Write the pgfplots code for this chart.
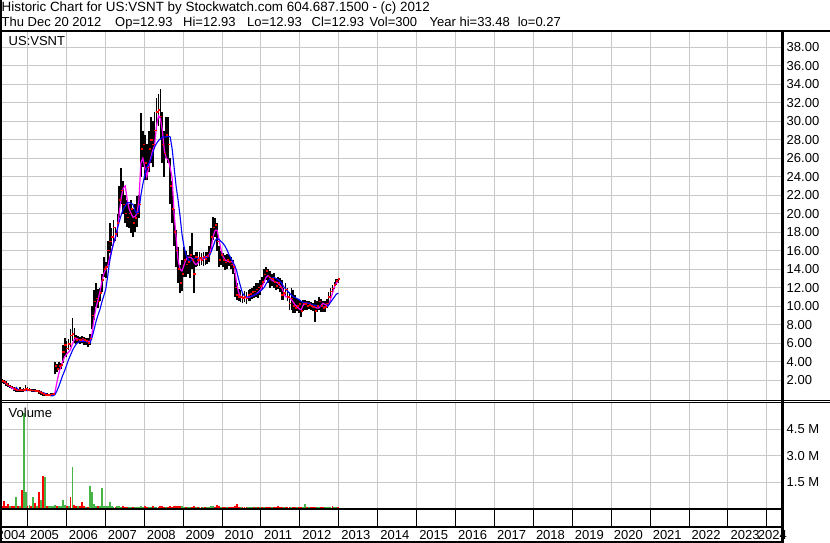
\documentclass[border=0pt]{standalone}
\usepackage{fontspec}
\setmainfont{Liberation Sans}
\usepackage{pgfplots}
\usepackage{pgfplotstable}
\pgfplotsset{compat=1.18}
\definecolor{gridgray}{RGB}{200,200,200}
\definecolor{volgreen}{RGB}{70,180,70}
\definecolor{magline}{RGB}{255,0,255}
\newcommand{\tx}{2005+(\thisrow{t}-2005)*1.0046}
\pgfplotstableread{
t hi lo cl ma mb vg vr
2004.35 2.1 1.7 1.9 1.9 nan 0 0.18
2004.40 2.0 1.6 1.8 1.8 nan 0 0.45
2004.45 1.9 1.4 1.6 1.65 nan 0 0.18
2004.50 1.7 1.2 1.4 1.45 nan 0 0.27
2004.55 1.5 1.1 1.3 1.3 nan 0.14 0
2004.60 1.4 1.0 1.2 1.15 nan 0 0.16
2004.65 1.2 0.8 1.0 1.0 nan 0 0.18
2004.70 1.1 0.7 0.9 0.95 1.25 0.68 0
2004.75 1.0 0.7 0.85 0.9 1.0 0 0.16
2004.80 1.2 0.7 0.9 0.9 0.9 0.16 0
2004.85 1.0 0.7 0.85 0.88 0.85 0 1.06
2004.90 1.1 0.7 0.9 0.9 0.85 5.4 0
2004.95 1.5 0.8 1.0 0.95 0.85 0.94 0
2005.00 1.2 0.8 0.95 0.95 0.85 0 0.18
2005.05 1.1 0.8 0.9 0.92 0.85 0.2 0
2005.10 1.0 0.7 0.85 0.88 0.85 0 0.16
2005.15 1.0 0.75 0.85 0.86 0.85 0.64 0
2005.20 1.0 0.7 0.8 0.84 0.82 0 0.3
2005.25 0.95 0.7 0.8 0.82 0.8 0.18 0
2005.30 0.9 0.5 0.7 0.75 0.75 0 0.93
2005.35 0.8 0.4 0.6 0.65 0.7 0.5 0
2005.40 0.7 0.3 0.5 0.55 0.62 0 1.85
2005.45 0.6 0.3 0.4 0.45 0.55 1.78 0
2005.50 0.6 0.27 0.35 0.4 0.45 0 0.18
2005.55 0.5 0.27 0.4 0.38 0.35 0.18 0
2005.60 0.6 0.3 0.45 0.4 0.3 0.16 0
2005.65 0.6 0.35 0.5 0.45 0.3 0.18 0
2005.70 4.0 2.7 3.5 0.6 0.4 0.2 0
2005.75 3.7 2.9 3.2 1.7 0.8 0 0.16
2005.80 3.9 3.1 3.5 2.7 1.3 0.16 0
2005.85 3.8 3.2 3.6 3.4 1.9 0.18 0
2005.90 5.8 3.8 5.0 4.0 2.5 0.5 0
2005.95 6.5 4.6 5.8 4.5 3.0 0.2 0
2006.00 6.2 4.5 5.4 4.8 3.6 0 0.18
2006.05 6.4 5.2 5.9 5.0 4.2 0.16 0
2006.10 7.5 5.6 6.8 5.3 4.7 0 0.64
2006.15 8.7 6.2 7.0 5.9 5.2 2.34 0
2006.20 7.6 6.0 6.6 6.4 5.6 0 0.2
2006.25 6.9 5.9 6.3 6.5 5.9 0 0.16
2006.30 6.8 6.0 6.4 6.4 6.1 0.14 0
2006.35 6.7 5.9 6.3 6.3 6.15 0 0.14
2006.40 6.8 6.0 6.5 6.3 6.2 0 0.36
2006.45 6.7 5.8 6.3 6.3 6.2 0 0.16
2006.50 6.6 5.8 6.2 6.25 6.15 0.11 0
2006.55 6.5 5.6 6.0 6.2 6.1 0 0.12
2006.60 7.0 5.8 6.5 6.15 6.0 1.28 0
2006.65 10.0 7.5 9.0 7.0 6.6 0.96 0
2006.70 11.7 8.5 10.5 8.6 7.4 0.25 0
2006.75 12.5 9.9 10.8 9.8 8.3 0.16 0
2006.80 11.8 9.8 10.5 10.6 9.0 0 0.14
2006.85 12.0 10.5 11.4 11.5 9.6 0.16 0
2006.90 13.5 11.5 12.8 12.6 10.4 1.15 0
2006.95 15.3 13.1 14.0 13.5 11.1 0.18 0
2007.00 14.8 13.0 14.2 14.0 11.8 0.14 0
2007.05 17.0 14.5 16.0 14.3 13.2 0.16 0
2007.10 19.0 15.7 17.0 15.2 14.8 0.36 0
2007.15 18.5 16.5 17.5 16.0 15.9 0.14 0
2007.20 19.3 16.8 18.5 16.8 16.8 0.12 0
2007.25 18.5 17.0 17.8 17.4 17.5 0 0.11
2007.30 20.0 17.5 19.0 18.3 18.4 0.14 0
2007.35 23.0 19.5 21.5 20.2 19.2 0.16 0
2007.40 24.9 21.0 22.5 21.8 19.9 0.12 0
2007.45 23.5 20.0 21.0 22.8 20.5 0 0.14
2007.50 22.0 19.0 20.0 23.0 20.8 0 0.12
2007.55 21.5 18.6 19.6 21.5 21.2 0 0.11
2007.60 21.0 18.5 20.0 20.5 21.2 0.11 0
2007.65 21.5 17.9 20.5 20.0 21.1 0.11 0
2007.70 20.5 17.5 19.0 19.6 21.0 0 0.12
2007.75 21.0 18.0 19.5 19.7 20.3 0.11 0
2007.80 21.9 18.6 20.0 20.0 20.0 0.11 0
2007.85 22.0 19.5 21.0 21.5 20.3 0.12 0
2007.90 30.9 24.0 27.0 25.5 22.0 0.18 0
2007.95 29.0 25.0 27.5 26.0 23.2 0.12 0
2008.00 28.5 23.6 25.5 25.0 24.2 0 0.14
2008.05 27.5 23.6 25.0 24.0 25.0 0 0.12
2008.10 29.0 24.5 27.0 25.0 25.4 0.12 0
2008.15 30.5 25.5 28.0 26.0 25.8 0.11 0
2008.20 30.0 25.0 27.5 26.8 26.5 0 0.14
2008.25 31.0 27.0 29.0 27.4 27.2 0.11 0
2008.30 32.5 29.0 31.0 29.5 27.6 0.12 0
2008.35 33.0 29.5 31.2 30.6 27.9 0 0.11
2008.40 33.48 28.0 30.5 30.3 28.1 0 0.16
2008.45 31.0 25.5 27.5 29.0 28.3 0 0.14
2008.50 29.0 24.0 26.5 26.8 28.3 0 0.12
2008.55 30.5 26.0 28.5 26.0 28.3 0.11 0
2008.60 30.5 25.5 27.5 25.8 28.4 0 0.11
2008.65 26.0 21.0 23.0 25.0 28.3 0 0.14
2008.70 23.5 19.0 20.5 23.8 27.0 0 0.12
2008.75 20.5 16.5 18.0 20.0 25.0 0 0.16
2008.80 18.2 14.2 16.0 17.5 23.0 0 0.14
2008.85 16.4 12.5 14.0 15.0 21.5 0 0.16
2008.90 14.5 11.4 12.5 14.0 19.8 0 0.18
2008.95 15.0 11.6 13.5 13.8 17.8 0.14 0
2009.00 16.4 13.2 15.0 14.4 16.5 0.12 0
2009.05 16.0 13.2 14.5 15.0 15.6 0 0.11
2009.10 15.5 13.5 14.8 15.3 15.1 0.11 0
2009.15 16.5 13.0 15.5 15.3 14.8 0.12 0
2009.20 17.9 14.0 15.0 15.2 15.0 0 0.11
2009.25 15.5 11.4 13.5 14.8 15.1 0 0.16
2009.30 15.9 14.2 15.3 14.5 15.2 0.11 0
2009.35 15.8 14.3 15.0 14.6 15.2 0 0.1
2009.40 15.9 14.3 15.2 15.0 15.2 0.1 0
2009.45 15.7 14.5 15.0 15.0 15.2 0 0.11
2009.50 15.9 14.3 15.3 15.1 15.2 0.11 0
2009.55 15.8 14.5 15.1 15.3 15.2 0 0.1
2009.60 15.9 14.6 15.4 15.4 15.3 0.11 0
2009.65 16.5 14.8 15.8 15.6 15.4 0.12 0
2009.70 18.5 16.0 17.5 16.3 15.9 0.16 0
2009.75 19.6 17.2 18.5 17.6 16.5 0.14 0
2009.80 19.5 17.5 18.8 18.2 17.1 0 0.12
2009.85 19.0 16.0 17.0 18.2 17.3 0 0.2
2009.90 16.5 14.2 15.0 17.2 17.2 0 0.16
2009.95 16.0 14.5 15.5 16.1 17.0 0.11 0
2010.00 15.7 14.2 15.0 15.4 16.8 0 0.11
2010.05 15.5 13.9 14.7 15.0 16.5 0 0.12
2010.10 15.6 14.0 15.0 14.9 16.1 0.11 0
2010.15 15.5 14.3 14.8 14.8 15.6 0 0.11
2010.20 15.3 14.0 14.5 14.8 15.2 0 0.12
2010.25 15.0 13.5 14.2 14.8 14.8 0 0.11
2010.30 13.6 11.0 12.0 14.0 14.4 0 0.18
2010.35 12.5 10.7 11.2 12.4 13.8 0 0.25
2010.40 11.8 10.5 11.0 11.5 12.9 0 0.12
2010.45 11.7 10.4 11.0 11.0 12.1 0.11 0
2010.50 11.5 10.3 10.9 10.95 11.4 0 0.11
2010.55 11.6 10.4 11.0 10.9 11.1 0 0.12
2010.60 11.5 10.2 10.8 10.9 11.0 0 0.11
2010.65 11.7 10.5 11.2 10.95 11.0 0.11 0
2010.70 11.8 10.6 11.3 11.0 11.0 0.11 0
2010.75 12.0 10.8 11.5 11.1 11.1 0.12 0
2010.80 12.2 10.9 11.6 11.2 11.2 0 0.11
2010.85 12.5 11.0 11.8 11.3 11.3 0.11 0
2010.90 12.5 10.9 12.0 11.5 11.4 0 0.11
2010.95 12.8 11.2 12.2 11.7 11.6 0.12 0
2011.00 13.2 11.8 12.6 12.1 11.8 0 0.11
2011.05 14.0 12.5 13.4 12.6 12.0 0.12 0
2011.10 14.2 12.8 13.8 13.1 12.4 0 0.12
2011.15 14.0 12.5 13.2 13.3 12.7 0 0.11
2011.20 13.8 12.0 13.0 13.1 12.9 0 0.11
2011.25 13.5 12.2 12.9 12.8 13.0 0.1 0
2011.30 13.6 12.0 12.6 12.7 13.1 0 0.12
2011.35 13.0 11.7 12.2 12.6 13.0 0 0.11
2011.40 13.2 11.8 12.5 12.5 12.9 0 0.18
2011.45 13.0 11.5 12.0 12.3 12.7 0 0.11
2011.50 12.8 10.7 11.2 12.0 12.5 0 0.12
2011.55 12.0 10.7 11.4 11.5 12.1 0.11 0
2011.60 12.5 11.0 11.8 11.0 11.9 0 0.11
2011.65 12.0 10.5 11.0 11.0 11.6 0 0.12
2011.70 11.5 9.6 10.3 10.9 11.4 0 0.11
2011.75 12.0 9.6 10.8 10.7 11.2 0.11 0
2011.80 11.7 9.2 10.0 10.4 11.0 0 0.11
2011.85 11.2 9.2 9.8 10.1 10.9 0 0.1
2011.90 10.8 9.5 10.0 9.9 10.8 0.11 0
2011.95 10.7 9.3 10.2 9.7 10.7 0 0.12
2012.00 10.6 8.8 9.5 9.6 10.5 0 0.11
2012.05 10.7 9.5 10.3 10.1 10.4 0.11 0
2012.10 10.7 9.6 10.2 10.3 10.35 0.25 0
2012.15 10.5 9.6 10.0 10.3 10.3 0 0.11
2012.20 10.6 9.7 10.1 10.3 10.3 0.1 0
2012.25 10.4 9.6 10.0 10.1 10.2 0 0.11
2012.30 10.3 9.5 9.9 9.9 10.1 0 0.1
2012.35 10.7 8.3 9.5 9.9 10.1 0 0.12
2012.40 10.5 9.4 10.0 9.8 10.05 0.11 0
2012.45 11.0 9.6 10.5 9.8 10.0 0.12 0
2012.50 10.8 9.4 10.0 10.0 10.0 0 0.11
2012.55 10.5 9.4 9.8 10.3 9.95 0 0.1
2012.60 10.6 9.4 9.9 10.2 9.9 0.11 0
2012.65 10.8 9.8 10.3 10.1 9.9 0.11 0
2012.70 11.5 10.2 11.0 10.1 10.1 0.12 0
2012.75 12.0 11.0 11.6 10.7 10.4 0.11 0
2012.80 12.3 11.2 11.9 11.4 10.7 0 0.16
2012.85 12.6 11.8 12.3 12.1 11.0 0.12 0
2012.90 12.9 12.3 12.7 12.5 11.3 0.11 0
2012.95 12.93 12.5 12.93 12.7 11.4 0 0.11
}\datatable

\begin{document}
\fontsize{13}{15}\selectfont
\begin{tikzpicture}
\useasboundingbox (0pt,0pt) rectangle (830pt,543pt);
\pgfplotsset{every axis/.append style={scale only axis,
  /pgf/number format/assume math mode=true,
  tick label style={font=\fontsize{13}{15}\selectfont, text=black},
  axis line style={draw=none}, major tick length=0pt,
  xmin=2004.337, xmax=2024.386}}
% ---------------- price panel
\begin{axis}[at={(1.7pt,142.5pt)}, anchor=south west, width=780.3pt, height=368.5pt,
  ymin=-0.216, ymax=39.66,
  xtick={2005,...,2024}, xticklabels={},
  ytick={2,4,...,38}, yticklabel pos=right,
  yticklabel style={anchor=west, inner sep=0pt, xshift=4.5pt,
    /pgf/number format/.cd, fixed, fixed zerofill, precision=2},
  grid=major, major grid style={gridgray, line width=1pt}]
\addplot[draw=none, mark=none, forget plot,
  error bars/.cd, y dir=plus, y explicit, error mark=none,
  error bar style={draw=black, line width=1.8pt}]
  table[x expr=\tx, y=lo, y error expr=\thisrow{hi}-\thisrow{lo}] {\datatable};
\addplot[only marks, red, mark=-, mark size=1.1pt, mark options={line width=1.6pt, xshift=0.9pt}]
  table[x expr=\tx, y=cl] {\datatable};
\addplot[magline, line width=1.2pt, mark=none] table[x expr=\tx, y=ma] {\datatable};
\addplot[blue, line width=1.1pt, mark=none] table[x expr=\tx, y=mb] {\datatable};
\end{axis}
% ---------------- volume panel
\begin{axis}[at={(1.7pt,34.3pt)}, anchor=south west, width=780.3pt, height=106pt,
  ymin=0, ymax=6,
  xtick={2005,...,2024}, xticklabels={},
  ytick={1.5,3,4.5}, yticklabels={1.5 M,3.0 M,4.5 M}, yticklabel pos=right,
  yticklabel style={anchor=west, inner sep=0pt, xshift=4.5pt},
  grid=major, major grid style={gridgray, line width=1pt}]
\addplot[ycomb, volgreen, line width=1.9pt, mark=none] table[x expr=\tx, y=vg] {\datatable};
\addplot[ycomb, red, line width=1.9pt, mark=none] table[x expr=\tx, y=vr] {\datatable};
\end{axis}
% ---------------- date strip
\begin{axis}[at={(1.7pt,16.3pt)}, anchor=south west, width=780.3pt, height=18pt,
  ymin=0, ymax=1, ytick=\empty,
  xtick={2005,...,2024}, xticklabels={},
  grid=major, major grid style={black, line width=1pt},
  extra x ticks={2004.58,2005.437,2006.437,2007.437,2008.437,2009.437,2010.437,2011.437,2012.437,2013.437,2014.437,2015.437,2016.437,2017.437,2018.437,2019.437,2020.437,2021.437,2022.437,2023.437,2024.14},
  extra x tick labels={2004,2005,2006,2007,2008,2009,2010,2011,2012,2013,2014,2015,2016,2017,2018,2019,2020,2021,2022,2023,2024},
  extra x tick style={grid=none, xticklabel style={anchor=north, inner sep=0pt, yshift=-3.5pt}}]
\addplot[draw=none] coordinates {(2005,0.5)};
\end{axis}
% ---------------- frame lines
\draw[line width=1.7pt] (0.85pt,0pt) -- (0.85pt,543pt);
\draw[line width=2.5pt] (0pt,512pt) -- (830pt,512pt);
\draw[line width=1pt] (0pt,142.5pt) -- (830pt,142.5pt);
\draw[line width=1pt] (0pt,140.3pt) -- (830pt,140.3pt);
\draw[line width=2.2pt] (0pt,34.3pt) -- (782pt,34.3pt);
\draw[line width=2pt] (0pt,16.3pt) -- (782pt,16.3pt);
\draw[line width=2pt] (0pt,1.3pt) -- (782pt,1.3pt);
\draw[line width=3pt] (782pt,0.3pt) -- (782pt,512pt);
% ---------------- texts
\node[anchor=base west, inner sep=0pt] at (1.5pt,531.3pt) {\fontsize{13.4}{15}\selectfont Historic Chart for US:VSNT by Stockwatch.com 604.687.1500 - (c) 2012};
\node[anchor=base west, inner sep=0pt] at (1.5pt,516.3pt) {Thu Dec 20 2012};
\node[anchor=base west, inner sep=0pt] at (115pt,516.3pt) {Op=12.93};
\node[anchor=base west, inner sep=0pt] at (183pt,516.3pt) {Hi=12.93};
\node[anchor=base west, inner sep=0pt] at (247pt,516.3pt) {Lo=12.93};
\node[anchor=base west, inner sep=0pt] at (311.5pt,516.3pt) {Cl=12.93};
\node[anchor=base west, inner sep=0pt] at (369.5pt,516.3pt) {Vol=300};
\node[anchor=base west, inner sep=0pt] at (429.5pt,516.3pt) {Year hi=33.48\hspace{8pt}lo=0.27};
\node[anchor=base west, inner sep=0pt] at (8.5pt,497pt) {US:VSNT};
\node[anchor=base west, inner sep=0pt] at (8.5pt,125pt) {Volume};
\end{tikzpicture}
\end{document}
